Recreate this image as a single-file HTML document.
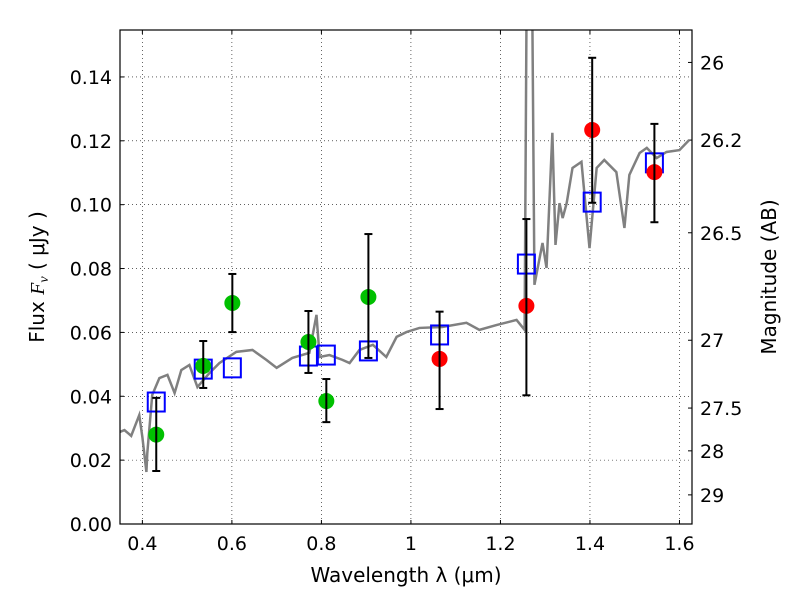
<!DOCTYPE html>
<html><head><meta charset="utf-8"><style>
body{margin:0;background:#fff;}
svg text{font-family:"DejaVu Sans","Liberation Sans",sans-serif;fill:#000;}
</style></head><body>
<svg id="chart" width="800" height="600" xmlns="http://www.w3.org/2000/svg"></svg>
<script>
const specW=[0.349,0.360,0.375,0.393,0.400,0.409,0.411,0.422,0.438,0.456,0.472,0.487,0.505,0.523,0.550,0.572,0.610,0.646,0.677,0.700,0.735,0.773,0.789,0.796,0.818,0.847,0.863,0.885,0.915,0.945,0.968,0.990,1.019,1.070,1.124,1.153,1.191,1.236,1.254,1.260,1.269,1.276,1.294,1.303,1.316,1.323,1.332,1.339,1.348,1.361,1.381,1.399,1.415,1.432,1.459,1.477,1.488,1.511,1.527,1.549,1.571,1.600,1.622];
const specF=[0.0288,0.0294,0.0276,0.0341,0.0272,0.0163,0.0222,0.0404,0.0457,0.0467,0.0410,0.0482,0.0498,0.0429,0.0473,0.0504,0.0539,0.0545,0.0514,0.0489,0.0520,0.0536,0.0655,0.0523,0.0529,0.0514,0.0504,0.0545,0.0561,0.0523,0.0586,0.0601,0.0614,0.0617,0.0630,0.0608,0.0623,0.0639,0.0608,0.2,0.2,0.0749,0.0880,0.0802,0.1225,0.0874,0.1005,0.0958,0.1005,0.1115,0.1134,0.0864,0.1115,0.1140,0.1102,0.0927,0.1093,0.1162,0.1178,0.1146,0.1165,0.1171,0.1203];
const modelW=[0.431,0.536,0.601,0.771,0.811,0.905,1.064,1.258,1.405,1.544];
const modelF=[0.0382,0.0485,0.0489,0.0526,0.0529,0.0542,0.0592,0.0814,0.1008,0.1131];
const greenW=[0.431,0.536,0.601,0.771,0.811,0.905];
const greenF=[0.028,0.0495,0.0692,0.057,0.0385,0.0711];
const greenLo=[0.0166,0.0426,0.0601,0.0473,0.0319,0.052];
const greenHi=[0.0395,0.0573,0.0783,0.0667,0.0454,0.0908];
const redW=[1.064,1.258,1.405,1.544];
const redF=[0.0517,0.0683,0.1234,0.1102];
const redLo=[0.036,0.0403,0.1006,0.0945];
const redHi=[0.0665,0.0955,0.146,0.1253];
const xTicks=[0.4,0.6,0.8,1.0,1.2,1.4,1.6];
const xTickLabels=["0.4","0.6","0.8","1","1.2","1.4","1.6"];
const yTicks=[0,0.02,0.04,0.06,0.08,0.10,0.12,0.14];
const yTickLabels=["0.00","0.02","0.04","0.06","0.08","0.10","0.12","0.14"];
const magTicks=[26,26.2,26.5,27,27.5,28,29];
const magTickLabels=["26","26.2","26.5","27","27.5","28","29"];

const L=120,R=692,T=30,B=524,XMIN=0.35,XMAX=1.628,YMIN=0,YMAX=0.1547;
const NS="http://www.w3.org/2000/svg";
const svg=document.getElementById('chart');
const sx=w=>L+(w-XMIN)/(XMAX-XMIN)*(R-L);
const sy=f=>B-(f-YMIN)/(YMAX-YMIN)*(B-T);
function mk(tag,attrs,parent){const e=document.createElementNS(NS,tag);for(const k in attrs)e.setAttribute(k,attrs[k]);(parent||svg).appendChild(e);return e;}

const defs=mk('defs',{});const cp=mk('clipPath',{id:'clip'},defs);mk('rect',{x:L,y:T,width:R-L,height:B-T},cp);

const grid=mk('g',{});


xTicks.forEach((t,i)=>{const x=sx(t);
  mk('line',{x1:x,y1:T,x2:x,y2:B,stroke:'#000','stroke-width':0.6,'stroke-dasharray':'1,3'},grid);
  mk('line',{x1:x,y1:B,x2:x,y2:B-4,stroke:'#000'},grid);
  mk('line',{x1:x,y1:T,x2:x,y2:T+4,stroke:'#000'},grid);
  const tx=mk('text',{x:x,y:B+26,'text-anchor':'middle','font-size':19});tx.textContent=xTickLabels[i];
  
  
});
yTicks.forEach((t,i)=>{const y=sy(t);
  mk('line',{x1:L,y1:y,x2:R,y2:y,stroke:'#000','stroke-width':0.6,'stroke-dasharray':'1,3'},grid);
  mk('line',{x1:L,y1:y,x2:L+4,y2:y,stroke:'#000'},grid);
  const tx=mk('text',{x:L-8,y:y+7,'text-anchor':'end','font-size':19});tx.textContent=yTickLabels[i];
  
  
});
magTicks.forEach((m,i)=>{const f=Math.pow(10,(23.9-m)/2.5);const y=sy(f);
  mk('line',{x1:R,y1:y,x2:R-4,y2:y,stroke:'#000'},grid);
  const tx=mk('text',{x:R+8,y:y+7,'font-size':19});tx.textContent=magTickLabels[i];
  
  
});

const plot=mk('g',{'clip-path':'url(#clip)'});
const spec=mk('polyline',{points:specW.map((w,i)=>sx(w)+','+sy(specF[i])).join(' '),fill:'none',stroke:'#808080','stroke-width':2.5},plot);



function errs(W,lo,hi){W.forEach((w,i)=>{const x=sx(w);
  const g=mk('g',{stroke:'#000','stroke-width':2},plot);
  
  
  mk('line',{x1:x,y1:sy(lo[i]),x2:x,y2:sy(hi[i])},g);
  mk('line',{x1:x-4,y1:sy(lo[i]),x2:x+4,y2:sy(lo[i])},g);
  mk('line',{x1:x-4,y1:sy(hi[i]),x2:x+4,y2:sy(hi[i])},g);});}
modelW.forEach((w,i)=>{const r=mk('rect',{x:sx(w)-8.5,y:sy(modelF[i])-9.5,width:17,height:19,fill:'none',stroke:'#0000ff','stroke-width':2},plot);
  
  });
greenW.forEach((w,i)=>{const c=mk('circle',{cx:sx(w),cy:sy(greenF[i]),r:8,fill:'#00c000'},plot);
  
  });
redW.forEach((w,i)=>{const c=mk('circle',{cx:sx(w),cy:sy(redF[i]),r:8,fill:'#ff0000'},plot);
  
  });
errs(greenW,greenLo,greenHi);errs(redW,redLo,redHi);

const frame=mk('rect',{x:L,y:T,width:R-L,height:B-T,fill:'none',stroke:'#000','stroke-width':1.2});



const xl=mk('text',{x:406,y:582,'text-anchor':'middle','font-size':20});xl.textContent='Wavelength  λ (μm)';


const yl=mk('text',{transform:'translate(44,277) rotate(-90)','text-anchor':'middle','font-size':20});
yl.innerHTML='Flux  <tspan font-style="italic" font-family="Liberation Serif, serif">F<tspan font-size="14" dy="4">ν</tspan></tspan><tspan dy="-4">  ( μJy )</tspan>';


const rl=mk('text',{transform:'translate(776,277) rotate(-90)','text-anchor':'middle','font-size':20});rl.textContent='Magnitude (AB)';


</script>
</body></html>
